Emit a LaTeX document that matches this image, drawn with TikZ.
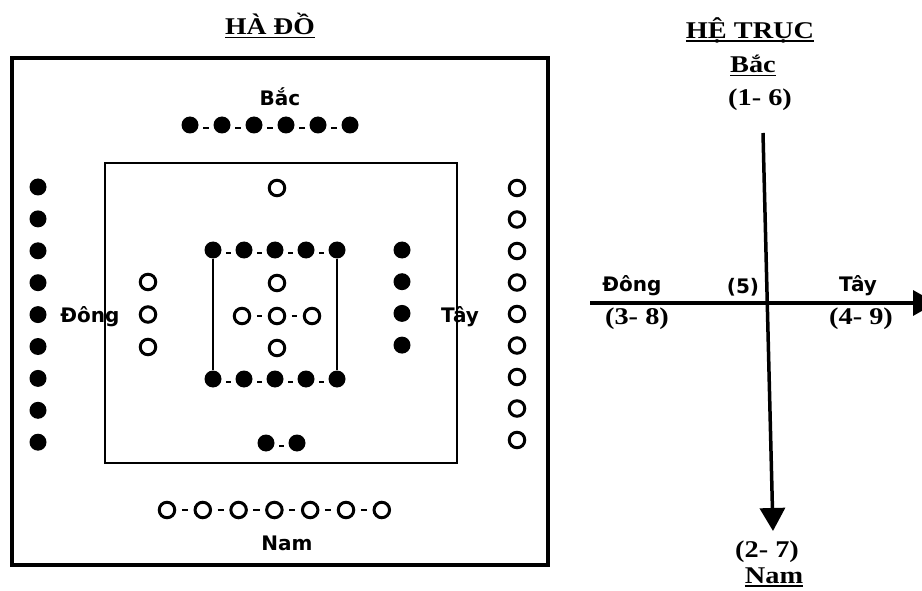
\documentclass[tikz,border=0pt]{standalone}
\usepackage{fontspec}
\setmainfont{Liberation Serif}
\newfontfamily\sanslbl{DejaVu Sans}
\newcommand\ulmark[1]{\setbox0\hbox{#1}\leavevmode\rlap{\rule[-3.5pt]{\wd0}{1.8pt}}\box0}
\usetikzlibrary{arrows.meta}
\tikzset{
  fdot/.style={circle,fill=black,inner sep=0pt,minimum size=17pt},
  odot/.style={circle,draw=black,line width=3pt,inner sep=0pt,minimum size=15.5pt},
  link/.style={line width=2pt,shorten >=4.5pt,shorten <=4.5pt},
  olink/.style={line width=2pt,shorten >=5.5pt,shorten <=5.5pt},
  outerbox/.style={line width=4pt},
  innerbox/.style={line width=2pt},
  sanslabel/.style={font=\sanslbl\bfseries\fontsize{20}{20}\selectfont,inner sep=0pt},
  seriflabel/.style={font=\bfseries\fontsize{24}{24}\selectfont,inner sep=0pt},
  axisline/.style={line width=3.5pt},
  axistip/.style={-{Triangle[length=23pt,width=25pt]}}
}
\begin{document}
\begin{tikzpicture}[x=1pt,y=-1pt]
\useasboundingbox (0,0) rectangle (922,591);
\fill[white] (0,0) rectangle (922,591);

% ---------- HA DO ----------
\node[seriflabel] (titleL) at (270,26) {\scalebox{1.15}[1]{\ulmark{HÀ ĐỒ}}};
\draw[outerbox] (12,58) rectangle (548,565);
\draw[innerbox] (105,163) rectangle (457,463);

\node[sanslabel] (bacL) at (280,97) {Bắc};
\node[sanslabel] (namL) at (287,543) {Nam};
\node[sanslabel] (dongL) at (90,317) {Đông};
\node[sanslabel] (tayL) at (460,317) {Tây};

% North outer: 6 filled
\foreach \i in {1,...,6} \node[fdot] (n\i) at ({158+32*\i},125) {};
\foreach \i [evaluate=\i as \j using int(\i+1)] in {1,...,5}
  \draw[link] ([yshift=-3pt]n\i.east) -- ([yshift=-3pt]n\j.west);
% North inner: 1 open
\node[odot] (ni) at (277,188) {};

% East (left) outer: 9 filled
\foreach \i in {1,...,9} \node[fdot] (e\i) at (38,{187+31.9*(\i-1)}) {};
% East inner: 3 open
\foreach \i in {1,2,3} \node[odot] (ei\i) at (148,{282+32.5*(\i-1)}) {};

% West (right) outer: 9 open
\foreach \i in {1,...,9} \node[odot] (w\i) at (517,{188+31.5*(\i-1)}) {};
% West inner: 4 filled
\foreach \i in {1,...,4} \node[fdot] (wi\i) at (402,{250+31.7*(\i-1)}) {};

% South inner: 2 filled
\node[fdot] (si1) at (266,443) {};
\node[fdot] (si2) at (297,443) {};
\draw[link] ([yshift=-3pt]si1.east) -- ([yshift=-3pt]si2.west);
% South outer: 7 open
\foreach \i in {1,...,7} \node[odot] (s\i) at ({167+35.8*(\i-1)},510) {};
\foreach \i [evaluate=\i as \j using int(\i+1)] in {1,...,6}
  \draw[olink] (s\i) -- (s\j);

% Center: 10 filled, 5 open
\foreach \i in {1,...,5} {
  \node[fdot] (ct\i) at ({213+31*(\i-1)},250) {};
  \node[fdot] (cb\i) at ({213+31*(\i-1)},379) {};
}
\foreach \i [evaluate=\i as \j using int(\i+1)] in {1,...,4} {
  \draw[link] ([yshift=-3pt]ct\i.east) -- ([yshift=-3pt]ct\j.west);
  \draw[link] ([yshift=-3pt]cb\i.east) -- ([yshift=-3pt]cb\j.west);
}
\draw[innerbox] (ct1) -- (cb1);
\draw[innerbox] (ct5) -- (cb5);
\node[odot] (c5t) at (277,283) {};
\node[odot] (c5l) at (242,316) {};
\node[odot] (c5c) at (277,316) {};
\node[odot] (c5r) at (312,316) {};
\node[odot] (c5b) at (277,348) {};
\draw[olink] (c5l) -- (c5c);
\draw[olink] (c5c) -- (c5r);

% ---------- HE TRUC ----------
\node[seriflabel] (titleR) at (750,30) {\scalebox{1.18}[1]{\ulmark{HỆ TRỤC}}};
\node[seriflabel] (bacR) at (753,66) {\scalebox{1.18}[1]{\ulmark{Bắc}}};
\node[seriflabel] (n16) at (760,100) {\scalebox{1.18}[1]{(1- 6)}};

\coordinate (vtop) at (763,133);
\coordinate (vbot) at (773,531);
\coordinate (hleft) at (590,303);
\coordinate (hright) at (936,303);
\draw[axisline,axistip] (hleft) -- (hright);
\draw[axisline,axistip] (vtop) -- (vbot);

\node[sanslabel] (dongR) at (632,286) {Đông};
\node[sanslabel] (five) at (743,287) {(5)};
\node[sanslabel] (tayR) at (858,286) {Tây};
\node[seriflabel] (n38) at (637,319) {\scalebox{1.18}[1]{(3- 8)}};
\node[seriflabel] (n49) at (861,319) {\scalebox{1.18}[1]{(4- 9)}};
\node[seriflabel] (n27) at (767,552) {\scalebox{1.18}[1]{(2- 7)}};
\node[seriflabel] (namR) at (774,577) {\scalebox{1.18}[1]{\ulmark{Nam}}};
\end{tikzpicture}
\end{document}
